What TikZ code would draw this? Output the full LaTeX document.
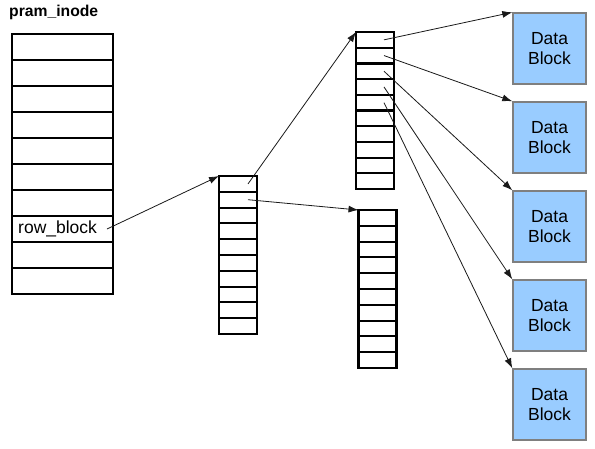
\documentclass[tikz,border=0pt]{standalone}
\usepackage{fontspec}
\setmainfont{Liberation Sans}
\usetikzlibrary{arrows.meta,positioning}
\definecolor{blockblue}{HTML}{99CCFF}
\definecolor{blockedge}{HTML}{7F7F7F}

\begin{document}
\begin{tikzpicture}[x=1pt,y=-1pt,
  widecell/.style={draw,line width=2.1pt,minimum width=101pt,minimum height=26pt,inner sep=0pt,outer sep=0pt},
  slimcell/.style={draw,line width=2.1pt,minimum width=38pt,minimum height=15.8pt,inner sep=0pt,outer sep=0pt},
  datablk/.style={draw=blockedge,fill=blockblue,line width=1.4pt,minimum width=73pt,minimum height=71pt,align=center,font=\fontsize{17.5}{19.3}\selectfont},
  link/.style={-{Latex[length=10pt,width=7pt]},line width=0.8pt,draw=black!90}]
      \useasboundingbox (0,0) rectangle (595,448);

      \node[anchor=base west,inner sep=0pt,font=\bfseries\fontsize{15.7}{18}\selectfont] (title) at (9,16.7) {pram\_inode};

      % inode table and the pointer blocks
      \foreach \i in {1,...,10} \node[widecell] (ino\i) at (62.5,{34+26*(\i-0.5)}) {};
      \foreach \i in {1,...,10} {
        \node[slimcell] (mid\i) at (238,{176+15.8*(\i-0.5)}) {};
        \node[slimcell] (up\i) at (375,{32+15.7*(\i-0.5)}) {};
        \node[slimcell] (low\i) at (377.5,{210+15.8*(\i-0.5)}) {};
      }
      \node[anchor=west,inner sep=0pt,font=\fontsize{17.5}{19.3}\selectfont] (rowlbl) at ([xshift=6pt]ino8.west) {row\_block};

      % data blocks
      \foreach \i/\y in {1/48.5,2/137.5,3/226.5,4/315.5,5/404.5}
        \node[datablk] (data\i) at (549.5,\y) {Data\\Block};

      \draw[link] ([xshift=-6pt]ino8.east) -- (mid1.north west);
      \draw[link] ([xshift=10pt]mid1.center) -- (up1.north west);
      \draw[link] ([xshift=10pt]mid2.center) -- (low1.north west);
      \foreach \i in {1,...,5} \draw[link] ([xshift=9pt]up\i.center) -- (data\i.north west);
\end{tikzpicture}
\end{document}
